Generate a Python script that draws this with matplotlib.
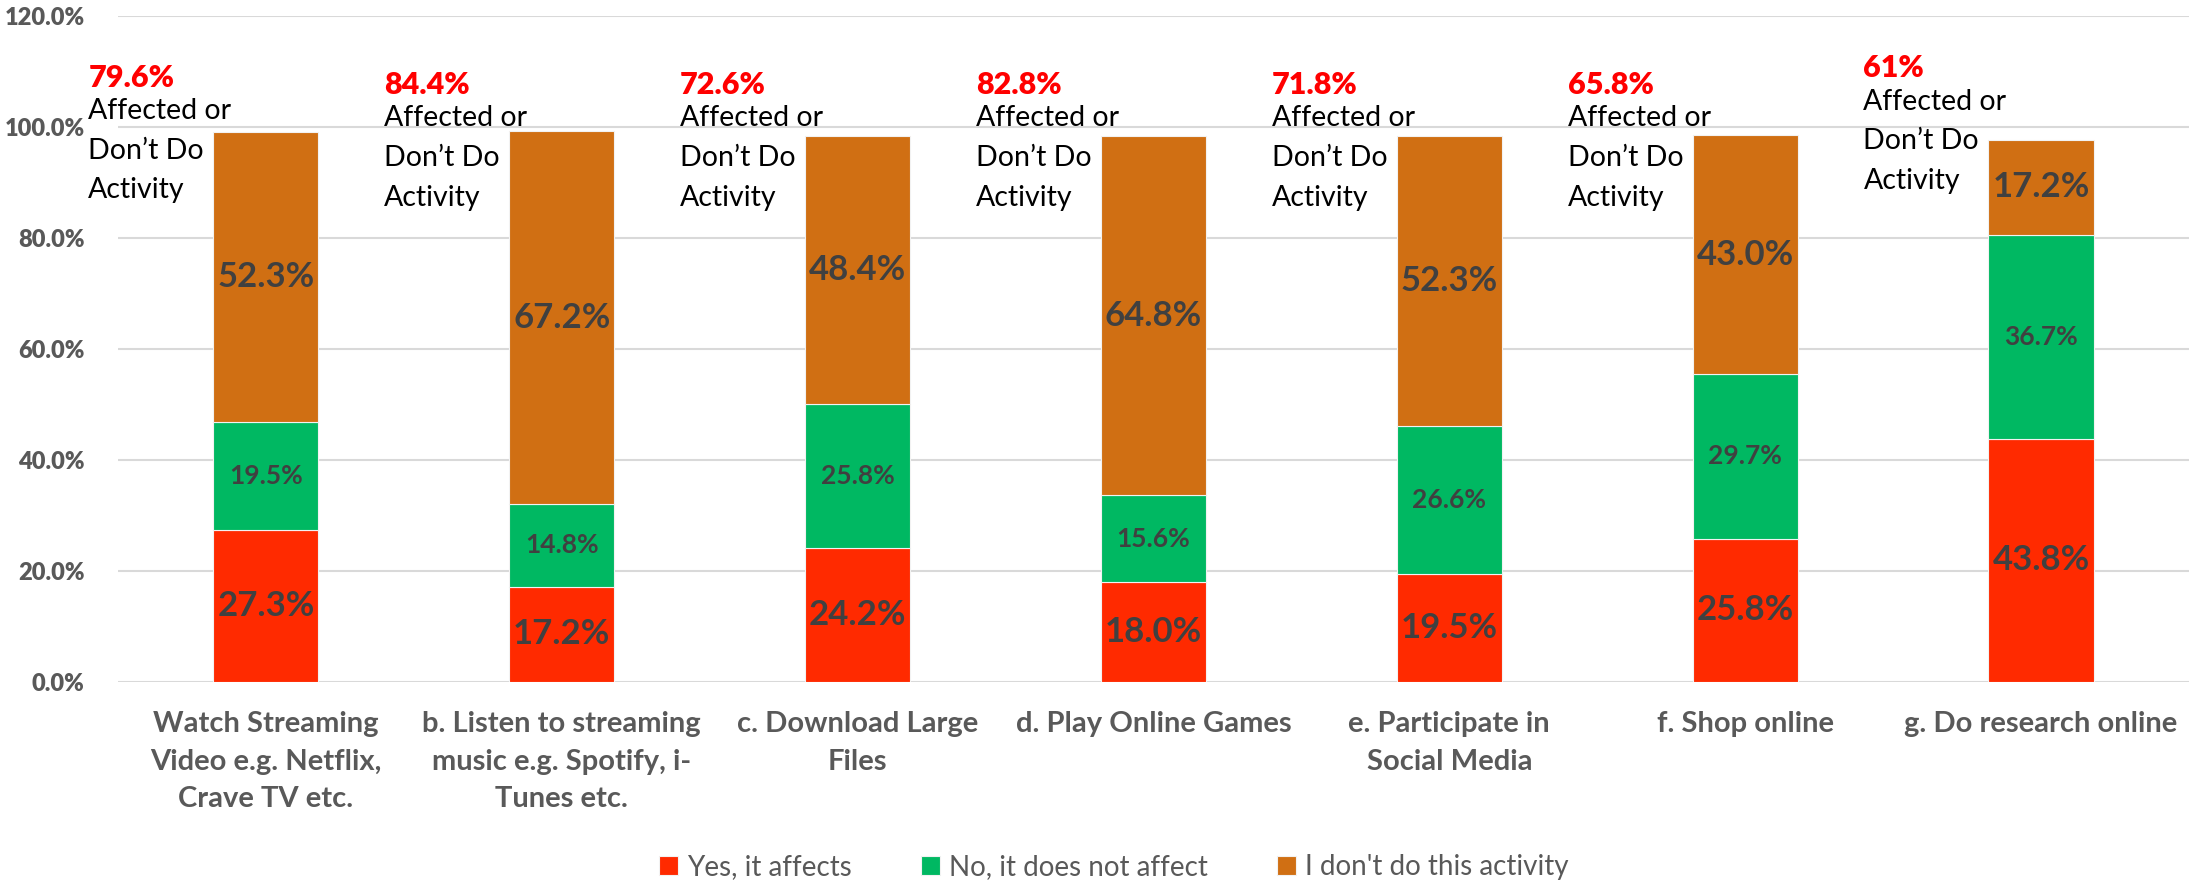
import numpy as np
import matplotlib
matplotlib.use("Agg")
import matplotlib.pyplot as plt

plt.rcParams['font.family'] = ['Lato', 'DejaVu Sans']

# data
categories = ["Watch Streaming\nVideo e.g. Netflix,\nCrave TV etc.",
              "b. Listen to streaming\nmusic e.g. Spotify, i-\nTunes etc.",
              "c. Download Large\nFiles",
              "d. Play Online Games",
              "e. Participate in\nSocial Media",
              "f. Shop online",
              "g. Do research online"]
yes_affects = [27.3, 17.2, 24.2, 18.0, 19.5, 25.8, 43.8]
no_affect = [19.5, 14.8, 25.8, 15.6, 26.6, 29.7, 36.7]
dont_do = [52.3, 67.2, 48.4, 64.8, 52.3, 43.0, 17.2]
affected_or_dont = ["79.6%", "84.4%", "72.6%", "82.8%", "71.8%", "65.8%", "61%"]
series_names = ["Yes, it affects", "No, it does not affect", "I don't do this activity"]

# layout
note_y = [108.9, 107.6, 107.6, 107.6, 107.6, 107.6, 110.6]
colors = ["#FF2A00", "#00B862", "#D06F13"]
label_sizes = [25, 19, 25]

fig = plt.figure(figsize=(21.92, 8.82), dpi=100)
ax = fig.add_axes([0.0538, 0.2268, 0.9448, 0.7551])

x = np.arange(len(categories))
bottom = np.zeros(len(categories))
for vals, col, name, fs in zip([yes_affects, no_affect, dont_do], colors, series_names, label_sizes):
    vals = np.array(vals)
    ax.bar(x, vals, 0.355, bottom=bottom, color=col, label=name,
           edgecolor="#F2F2F2", linewidth=0.8, zorder=3)
    for xi, b, v in zip(x, bottom, vals):
        ax.text(xi, b + v / 2, "%.1f%%" % v, ha="center", va="center",
                fontsize=fs, fontweight="bold", color="#404040", zorder=4)
    bottom += vals

for xi, pct, ny in zip(x, affected_or_dont, note_y):
    ax.text(xi - 0.6, ny, pct, ha="left", va="center", fontsize=22,
            fontweight="heavy", color="#FF0000")
    ax.text(xi - 0.6, ny - 3.7, "Affected or\nDon\u2019t Do\nActivity", ha="left",
            va="top", fontsize=20.5, color="black", linespacing=1.65)

ax.set_xlim(-0.5, len(categories) - 0.5)
ax.set_ylim(0, 120)
ax.set_yticks(np.arange(0, 121, 20))
ax.set_yticklabels(["%.1f%%" % t for t in np.arange(0, 121, 20)],
                   fontsize=17, fontweight="heavy", color="#595959")
ax.set_xticks(x)
ax.set_xticklabels(categories, fontsize=21, fontweight="bold", color="#595959",
                   linespacing=1.55)
ax.tick_params(axis="both", length=0)
ax.tick_params(axis="x", pad=21)
ax.tick_params(axis="y", pad=24)
ax.grid(axis="y", color="#D9D9D9", linewidth=1.5, zorder=0)
for s in ax.spines.values():
    s.set_visible(False)

leg = fig.legend(loc="center", bbox_to_anchor=(0.508, 0.017), ncol=3, frameon=False,
                 fontsize=20, handlelength=0.7, handleheight=0.7, handletextpad=0.3,
                 columnspacing=2.5)
for t in leg.get_texts():
    t.set_color("#595959")

fig.savefig("out.png", dpi=100)
